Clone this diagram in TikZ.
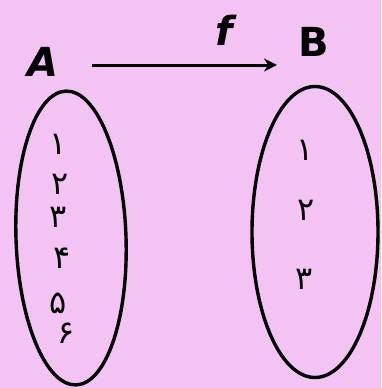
\documentclass[tikz,border=0pt]{standalone}
\usepackage{fontspec}
\setmainfont{DejaVu Sans}
\newfontfamily\arabicfont[Script=Arabic]{DejaVu Sans}
\usetikzlibrary{arrows.meta,shapes.geometric}
\definecolor{bgpink}{RGB}{243,196,243}
\tikzset{
  setell/.style={draw=black, line width=3.4pt, ellipse, inner sep=0pt},
  digit/.style={font=\arabicfont\fontsize{32}{34}\selectfont, inner sep=0pt},
  lbl/.style={font=\bfseries\fontsize{40}{42}\selectfont, inner sep=0pt},
  maparrow/.style={draw=black, line width=3pt, -{Stealth[length=13pt,width=13pt]}}
}
\begin{document}
\begin{tikzpicture}[x=1pt,y=-1pt]
\fill[bgpink] (0,0) rectangle (381,388);
\useasboundingbox (0,0) rectangle (381,388);
\node[setell, minimum width=110pt, minimum height=294pt, rotate=2] (setA) at (71,238) {};
\node[setell, minimum width=126pt, minimum height=291pt] (setB) at (315,232) {};
\node[lbl, font=\bfseries\itshape\fontsize{40}{42}\selectfont] (la) at (43,62) {A};
\node[lbl] (lb) at (314,42) {B};
\node[lbl, font=\bfseries\itshape\fontsize{40}{42}\selectfont] (lf) at (224,30) {f};
\coordinate (s) at (92,65);
\coordinate (e) at (277,65);
\draw[maparrow] (s) -- (e);
\node[digit] (a1) at (58,144) {۱};
\node[digit] (a2) at (60,184) {۲};
\node[digit] (a3) at (58,217) {۳};
\node[digit] (a4) at (62,258) {۴};
\node[digit] (a5) at (58,303) {۵};
\node[digit] (a6) at (66,333) {۶};
\node[digit] (b1) at (305,150) {۱};
\node[digit] (b2) at (306,210) {۲};
\node[digit] (b3) at (304,279) {۳};
\end{tikzpicture}
\end{document}
